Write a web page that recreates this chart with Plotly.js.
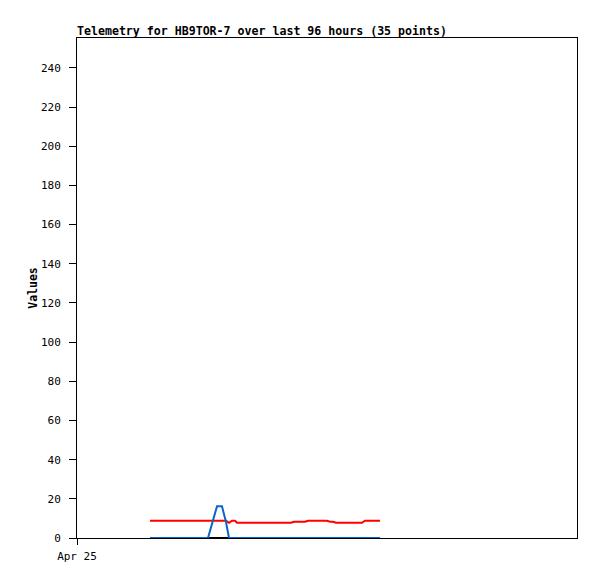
<!DOCTYPE html>
<html><head><meta charset="utf-8">
<script src="https://cdn.plot.ly/plotly-3.0.1.min.js"></script>
<style>html,body{margin:0;padding:0;background:#fff}#chart{width:597px;height:579px}</style>
</head><body><div id="chart"></div>
<script>
const times = [
 "2024-04-25 14:01","2024-04-25 15:56","2024-04-25 17:51","2024-04-25 19:47","2024-04-25 21:42",
 "2024-04-25 23:37","2024-04-26 01:09","2024-04-26 02:53","2024-04-26 03:50","2024-04-26 04:37",
 "2024-04-26 05:11","2024-04-26 05:46","2024-04-26 06:20","2024-04-26 06:43","2024-04-26 08:38",
 "2024-04-26 10:45","2024-04-26 12:52","2024-04-26 14:59","2024-04-26 17:05","2024-04-26 17:40",
 "2024-04-26 19:47","2024-04-26 20:21","2024-04-26 22:16","2024-04-27 00:00","2024-04-27 00:35",
 "2024-04-27 01:09","2024-04-27 01:44","2024-04-27 03:28","2024-04-27 05:11","2024-04-27 06:43",
 "2024-04-27 07:18","2024-04-27 08:15","2024-04-27 09:13","2024-04-27 09:47","2024-04-27 10:11"];
const redSeries = [8.8,8.8,8.8,8.8,8.8,8.8,8.8,8.8,8.8,8.8,
 7.8,8.8,8.8,7.8,7.8,7.8,7.8,7.8,7.8,8.3,
 8.3,8.8,8.8,8.8,8.3,8.3,7.8,7.8,7.8,7.8,
 8.8,8.8,8.8,8.8,8.8];
const blueSeries = [0,0,0,0,0,0,0,16.2,16.2,8,
 0,0,0,0,0,0,0,0,0,0,
 0,0,0,0,0,0,0,0,0,0,
 0,0,0,0,0];
const blackSeries = [0,0,0,0,0,0,0,0,0,0,0,0,0,0,0,0,0,0,0,0,0,0,0,0,0,0,0,0,0,0,0,0,0,0,0];
const yTicks = [0,20,40,60,80,100,120,140,160,180,200,220,240];
const xTickVals = ["2024-04-25 00:00"];
const xTickText = ["Apr 25"];

const font = {family: "DejaVu Sans Mono, monospace", size: 11, color: "#000"};
const traces = [
 {x: times, y: blackSeries, mode: "lines", line: {color: "#000000", width: 2}, hoverinfo: "skip"},
 {x: times, y: redSeries, mode: "lines", line: {color: "#ff0000", width: 2}, hoverinfo: "skip"},
 {x: times, y: blueSeries, mode: "lines", line: {color: "#0a64c8", width: 2}, hoverinfo: "skip"}
];
const layout = {
 width: 597, height: 579,
 margin: {l: 77, r: 20, t: 38, b: 41},
 paper_bgcolor: "#fff", plot_bgcolor: "#fff",
 showlegend: false,
 font: font,
 title: {text: "<b>Telemetry for HB9TOR-7 over last 96 hours (35 points)</b>", x: 77/597, xanchor: "left", y: 1 - 31/579, yanchor: "middle", font: {family: "DejaVu Sans Mono, monospace", size: 11.6, color: "#000"}},
 xaxis: {type: "date", range: ["2024-04-25 00:00", "2024-04-29 00:00"], tickmode: "array", tickvals: xTickVals, ticktext: xTickText,
   showgrid: false, zeroline: false, showline: true, linecolor: "#000", linewidth: 1, mirror: true,
   ticks: "outside", ticklen: 6, tickcolor: "#000", tickfont: font, ticklabelstandoff: 2},
 yaxis: {range: [0, 255.3], tickmode: "array", tickvals: yTicks, showgrid: false, zeroline: false,
   showline: true, linecolor: "#000", linewidth: 1, mirror: true, ticks: "outside", ticklen: 7, tickcolor: "#000",
   tickfont: font, ticklabelstandoff: 6,
   title: {text: "<b>Values</b>", font: {family: "DejaVu Sans Mono, monospace", size: 11.5, color: "#000"}, standoff: 0}}
};
Plotly.newPlot("chart", traces, layout, {staticPlot: true, displayModeBar: false});
</script></body></html>
